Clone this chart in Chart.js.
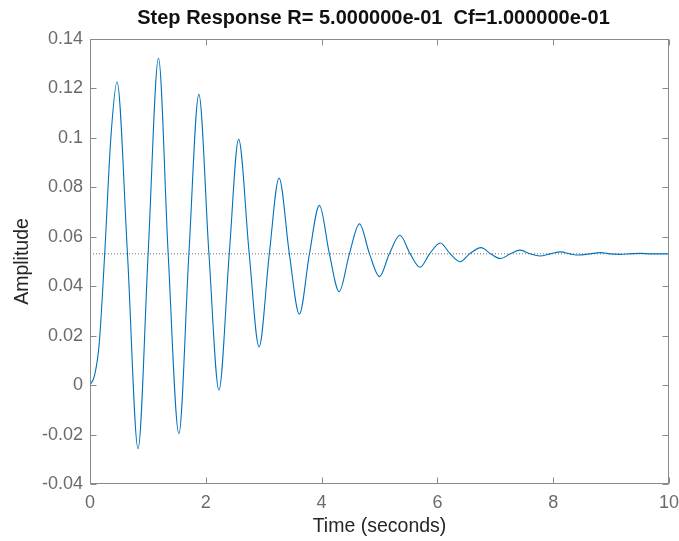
<!DOCTYPE html>
<html lang="en">
<head>
    <meta charset="UTF-8">
    <title>Step Response</title>
    <script src="https://cdn.jsdelivr.net/npm/chart.js"></script>
    <style>
        body {
            margin: 0;
            padding: 0;
            background-color: #fff;
        }
    </style>
</head>
<body>
    <canvas id="stepChart" width="679" height="541"></canvas>

    <script>
        // values (time in seconds, amplitude)
        const timeSec = [
            0, 0.08, 0.16, 0.254, 0.36, 0.467, 0.647, 0.83, 1.004, 1.183,
            1.35, 1.535, 1.708, 1.88, 2.054, 2.227, 2.405, 2.567, 2.75, 2.92,
            3.097, 3.265, 3.443, 3.616, 3.79, 3.962, 4.135, 4.303, 4.48, 4.654,
            4.827, 5.0, 5.17, 5.353, 5.53, 5.70, 5.865, 6.05, 6.22, 6.39,
            6.557, 6.754, 6.92, 7.09, 7.26, 7.43, 7.60, 7.77, 7.95, 8.13,
            8.29, 8.44, 8.63, 8.82, 8.98, 9.15, 9.32, 9.5, 9.7, 10
        ];
        const amplitude = [
            0, 0.004, 0.017, 0.0531, 0.100, 0.1226, 0.0531, -0.0257, 0.0531, 0.1322,
            0.0531, -0.0196, 0.0531, 0.1176, 0.0531, -0.0020, 0.0531, 0.0994, 0.0531, 0.0155,
            0.0531, 0.0838, 0.0531, 0.0287, 0.0531, 0.0727, 0.0531, 0.0378, 0.0531, 0.0652,
            0.0531, 0.0439, 0.0531, 0.0606, 0.0531, 0.0477, 0.0531, 0.0575, 0.0531, 0.0499,
            0.0531, 0.0556, 0.0531, 0.0512, 0.0531, 0.0546, 0.0531, 0.0522, 0.0531, 0.0539,
            0.0531, 0.0526, 0.0531, 0.0536, 0.0531, 0.0529, 0.0531, 0.0533, 0.0531, 0.0531
        ];
        const finalValue = 0.0531;
        const xTicks = [0, 2, 4, 6, 8, 10];
        const yTicks = [-0.04, -0.02, 0, 0.02, 0.04, 0.06, 0.08, 0.1, 0.12, 0.14];
        const titleText = 'Step Response R= 5.000000e-01  Cf=1.000000e-01';

        const fontName = '"Liberation Sans", Arial, Helvetica, sans-serif';

        // matlab-style box with inward ticks + title
        const boxPlugin = {
            id: 'boxPlugin',
            afterDraw(chart) {
                const ctx = chart.ctx;
                const a = chart.chartArea;
                const xs = chart.scales.x, ys = chart.scales.y;
                const L = Math.round(a.left) + 0.5, R = Math.round(a.right) - 0.5;
                const T = Math.round(a.top) + 0.5, B = Math.round(a.bottom) - 0.5;
                ctx.save();
                ctx.strokeStyle = '#8a8a8a';
                ctx.lineWidth = 1;
                ctx.strokeRect(L, T, R - L, B - T);
                ctx.beginPath();
                const tl = 6;
                xTicks.forEach(v => {
                    const px = Math.round(xs.getPixelForValue(v)) + 0.5;
                    ctx.moveTo(px, B); ctx.lineTo(px, B - tl);
                    ctx.moveTo(px, T); ctx.lineTo(px, T + tl);
                });
                yTicks.forEach(v => {
                    const py = Math.round(ys.getPixelForValue(v)) + 0.5;
                    ctx.moveTo(L, py); ctx.lineTo(L + tl, py);
                    ctx.moveTo(R, py); ctx.lineTo(R - tl, py);
                });
                ctx.stroke();
                ctx.fillStyle = '#111';
                ctx.font = 'bold 20px ' + fontName;
                ctx.textAlign = 'center';
                ctx.textBaseline = 'middle';
                ctx.fillText(titleText, (a.left + a.right) / 2 - 6, 18);
                ctx.restore();
            }
        };

        const ctx = document.getElementById('stepChart').getContext('2d');
        new Chart(ctx, {
            type: 'line',
            data: {
                datasets: [
                    {
                        label: 'Step response',
                        data: timeSec.map((t, i) => ({ x: t, y: amplitude[i] })),
                        borderColor: '#0072BD',
                        borderWidth: 1.1,
                        pointRadius: 0,
                        cubicInterpolationMode: 'monotone',
                        fill: false
                    },
                    {
                        label: 'Final value',
                        data: [{ x: 0, y: finalValue }, { x: 10, y: finalValue }],
                        borderColor: '#6e6e6e',
                        borderWidth: 1,
                        borderDash: [1, 2],
                        pointRadius: 0,
                        fill: false
                    }
                ]
            },
            options: {
                responsive: false,
                animation: false,
                layout: { padding: { top: 39, right: 10, left: 0, bottom: 0 } },
                plugins: {
                    legend: { display: false },
                    tooltip: { enabled: false }
                },
                scales: {
                    x: {
                        type: 'linear',
                        min: 0,
                        max: 10,
                        afterFit: s => { s.height = 57; s.paddingLeft = 0; s.paddingRight = 0; },
                        afterBuildTicks: s => { s.ticks = xTicks.map(v => ({ value: v })); },
                        grid: { display: false, drawTicks: false },
                        border: { display: false },
                        ticks: {
                            padding: 8,
                            autoSkip: false,
                            maxRotation: 0,
                            color: '#6b6b6b',
                            font: { family: fontName, size: 18 }
                        },
                        title: {
                            display: true,
                            text: 'Time (seconds)',
                            color: '#262626',
                            font: { family: fontName, size: 19.5 },
                            padding: { top: 0, bottom: 3 }
                        }
                    },
                    y: {
                        min: -0.04,
                        max: 0.14,
                        afterFit: s => { s.width = 90; s.paddingTop = 0; s.paddingBottom = 0; },
                        afterBuildTicks: s => { s.ticks = yTicks.map(v => ({ value: v })); },
                        grid: { display: false, drawTicks: false },
                        border: { display: false },
                        ticks: {
                            padding: 7,
                            autoSkip: false,
                            color: '#6b6b6b',
                            font: { family: fontName, size: 18 },
                            callback: v => String(Number(v.toFixed(2)))
                        },
                        title: {
                            display: true,
                            text: 'Amplitude',
                            color: '#262626',
                            font: { family: fontName, size: 19.5 },
                            padding: { top: 11, bottom: 0 }
                        }
                    }
                }
            },
            plugins: [boxPlugin]
        });
    </script>
</body>
</html>
